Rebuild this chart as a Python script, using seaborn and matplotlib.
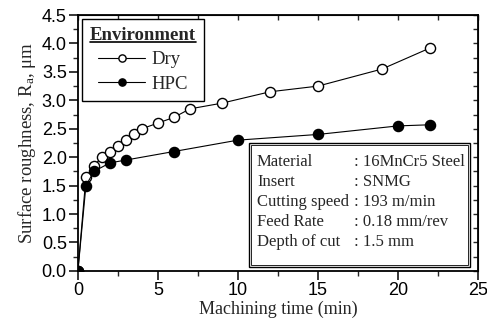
import matplotlib
matplotlib.use("Agg")
import matplotlib.pyplot as plt
import seaborn as sns
import pandas as pd
from matplotlib.ticker import MultipleLocator
from matplotlib.lines import Line2D
from matplotlib.patches import Rectangle

dry_time = [0, 0.5, 1, 1.5, 2, 2.5, 3, 3.5, 4, 5, 6, 7, 9, 12, 15, 19, 22]
dry_ra = [0.0, 1.65, 1.85, 2.0, 2.1, 2.2, 2.3, 2.4, 2.5, 2.6, 2.7, 2.85, 2.95, 3.15, 3.25, 3.55, 3.92]
hpc_time = [0, 0.5, 1, 2, 3, 6, 10, 15, 20, 22]
hpc_ra = [0.0, 1.5, 1.75, 1.9, 1.95, 2.1, 2.3, 2.4, 2.55, 2.57]

info_keys = ["Material", "Insert", "Cutting speed", "Feed Rate", "Depth of cut"]
info_vals = [": 16MnCr5 Steel", ": SNMG", ": 193 m/min", ": 0.18 mm/rev", ": 1.5 mm"]

sns.set_style("ticks")
plt.rcParams["font.family"] = ["Liberation Sans", "DejaVu Sans"]
plt.rcParams["mathtext.fontset"] = "custom"
plt.rcParams["mathtext.rm"] = "Liberation Serif"
plt.rcParams["mathtext.it"] = "Liberation Serif"
serif = ["Liberation Serif", "DejaVu Serif"]

fig = plt.figure(figsize=(4.87, 3.30), dpi=100)
ax = fig.add_axes([0.160, 0.179, 0.8215, 0.7755])

dry = pd.DataFrame({"t": dry_time, "ra": dry_ra})
hpc = pd.DataFrame({"t": hpc_time, "ra": hpc_ra})

sns.lineplot(data=dry, x="t", y="ra", ax=ax, color="black", lw=0.8,
             marker="o", markersize=7.3, markerfacecolor="white",
             markeredgecolor="black", markeredgewidth=1.0, zorder=3)
sns.lineplot(data=hpc, x="t", y="ra", ax=ax, color="black", lw=0.8,
             marker="o", markersize=7.3, markerfacecolor="black",
             markeredgecolor="black", markeredgewidth=1.0, zorder=4)

ax.set_xlim(0, 25)
ax.set_ylim(0, 4.5)
ax.xaxis.set_major_locator(MultipleLocator(5))
ax.xaxis.set_minor_locator(MultipleLocator(2.5))
ax.yaxis.set_major_locator(MultipleLocator(0.5))
ax.yaxis.set_minor_locator(MultipleLocator(0.25))
ax.yaxis.set_major_formatter(matplotlib.ticker.FormatStrFormatter("%.1f"))
for s in ax.spines.values():
    s.set_linewidth(1.3)
    s.set_visible(True)
    s.set_color("black")
ax.tick_params(which="major", direction="out", length=6.5, width=1.1, labelsize=13,
               colors="black", pad=1.5)
ax.tick_params(which="minor", direction="out", length=3.5, width=1.0)

top = ax.secondary_xaxis("top")
top.xaxis.set_major_locator(MultipleLocator(2.5))
top.tick_params(direction="in", length=3.5, width=1.0, labeltop=False)
right = ax.secondary_yaxis("right")
right.yaxis.set_major_locator(MultipleLocator(0.25))
right.tick_params(direction="in", length=3.5, width=1.0, labelright=False)

ax.set_xlabel("Machining time (min)", family=serif, fontsize=13, labelpad=1)
ax.set_ylabel("Surface roughness, R$_a$, μm", family=serif, fontsize=13.5, labelpad=3)

handles = [
    Line2D([], [], color="black", lw=0.8, marker="o", markersize=5.2,
           markerfacecolor="white", markeredgecolor="black"),
    Line2D([], [], color="black", lw=0.8, marker="o", markersize=5.2,
           markerfacecolor="black", markeredgecolor="black"),
]
leg = ax.legend(handles, ["Dry", "HPC"], loc="upper left", bbox_to_anchor=(0.0, 1.0),
                title="Environment", prop={"family": serif, "size": 13.5},
                title_fontproperties={"family": serif, "size": 13.5, "weight": "bold"},
                frameon=True, fancybox=False, edgecolor="black", framealpha=1,
                borderpad=0.42, handlelength=2.55, handletextpad=0.3, labelspacing=0.4,
                borderaxespad=0.2)
leg.get_frame().set_linewidth(1.0)

# information box
box_left, box_top = 0.4275, 0.50
ax.add_patch(Rectangle((box_left, 0.016), 0.5525, box_top - 0.016, transform=ax.transAxes,
                       facecolor="white", edgecolor="black", lw=1.0, zorder=5))
ax.add_patch(Rectangle((box_left + 0.006, 0.022), 0.5405, box_top - 0.028, transform=ax.transAxes,
                       facecolor="none", edgecolor="black", lw=0.6, zorder=5))
for i, (k, v) in enumerate(zip(info_keys, info_vals)):
    yy = box_top - 0.074 - i * 0.078
    ax.text(box_left + 0.02, yy, k, transform=ax.transAxes, family=serif, fontsize=12,
            va="center", ha="left", zorder=6)
    ax.text(box_left + 0.2625, yy, v, transform=ax.transAxes, family=serif, fontsize=12,
            va="center", ha="left", zorder=6)

# underline legend title
fig.canvas.draw()
r = fig.canvas.get_renderer()
bb = leg.get_title().get_window_extent(r)
inv = fig.transFigure.inverted()
(x0, y0), (x1, _) = inv.transform([(bb.x0, bb.y0 + 1.5), (bb.x1, bb.y0)])
fig.add_artist(Line2D([x0, x1], [y0, y0], color="black", lw=1.2, transform=fig.transFigure))

fig.savefig("out.png", dpi=100)
